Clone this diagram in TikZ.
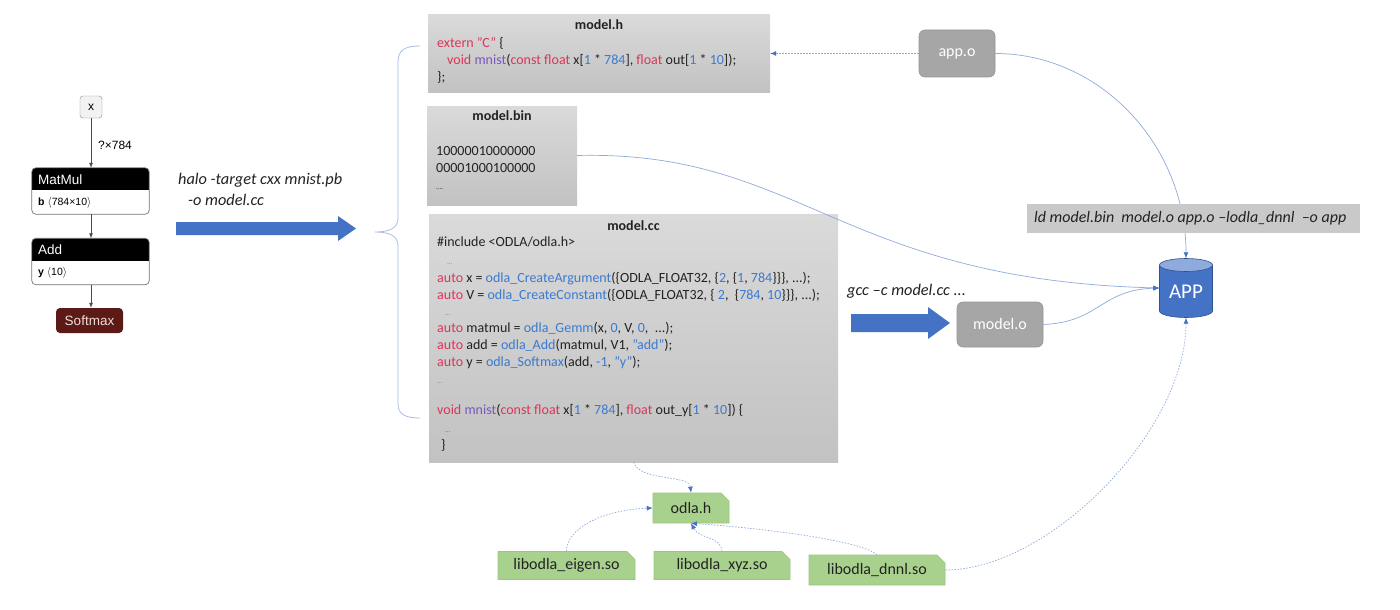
\documentclass[tikz,border=0pt]{standalone}
\usepackage{fontspec}
\setmainfont{Carlito}
\newfontfamily\graphfont{Liberation Sans}
\usetikzlibrary{arrows.meta,shapes.misc}
\definecolor{kwred}{HTML}{DE3458}
\definecolor{fnblue}{HTML}{3A7AD0}
\definecolor{mnpurple}{HTML}{7B55C0}
\definecolor{codeblack}{HTML}{222222}
\definecolor{boxtop}{HTML}{DADADA}
\definecolor{boxbot}{HTML}{C2C2C2}
\definecolor{objgray}{HTML}{A6A6A6}
\definecolor{objborder}{HTML}{959595}
\definecolor{bigblue}{HTML}{4472C4}
\definecolor{linkblue}{HTML}{8FAADC}
\definecolor{headblue}{HTML}{4472C4}
\definecolor{libgreen}{HTML}{A9D18E}
\definecolor{libborder}{HTML}{9CC67F}
\definecolor{appdark}{HTML}{2F528F}
\definecolor{apptop}{HTML}{8FAADC}
\definecolor{smred}{HTML}{5B1A15}
\definecolor{smtext}{HTML}{F2DCD8}
\definecolor{bracecol}{HTML}{A9BDE2}
\definecolor{ldgray}{HTML}{C9C9C9}
\newcommand\ckw[1]{\textcolor{kwred}{#1}}
\newcommand\cfn[1]{\textcolor{fnblue}{#1}}
\newcommand\cmn[1]{\textcolor{mnpurple}{#1}}
\begin{document}
\begin{tikzpicture}[x=1pt,y=-1pt,
  codeline/.style={anchor=mid west, inner sep=0pt, text=codeblack, font=\fontsize{14}{17}\selectfont},
  dotline/.style={anchor=base west, inner sep=0pt, text=gray, font=\fontsize{7}{7}\selectfont},
  codetitle/.style={inner sep=0pt, anchor=mid, text=codeblack, font=\bfseries\fontsize{14}{17}\selectfont},
  codebox/.style={rectangle, draw=none, top color=boxtop, bottom color=boxbot, inner sep=0pt},
  objbox/.style={rectangle, rounded corners=6pt, fill=objgray, draw=objborder, line width=0.6pt, text=white, font=\fontsize{16}{18}\selectfont, inner sep=0pt},
  libbox/.style={chamfered rectangle, chamfered rectangle corners=north east, chamfered rectangle xsep=4pt, chamfered rectangle ysep=4pt, fill=libgreen, draw=libborder, line width=0.6pt, text=codeblack, font=\fontsize{16}{18}\selectfont, inner sep=0pt},
  conn/.style={draw=linkblue, line width=0.7pt, -{Latex[length=6pt,width=5pt,color=headblue]}},
  dconn/.style={conn, dash pattern=on 1.5pt off 1.5pt},
  garrow/.style={draw=black!70, line width=0.7pt, -{Latex[length=5pt,width=4pt]}},
  gfont/.style={font=\graphfont\fontsize{12}{14}\selectfont},
  opbox/.style={rectangle, minimum width=117, minimum height=46, inner sep=0pt},
  optext/.style={anchor=west, inner sep=0pt, gfont},
  cmdtext/.style={anchor=west, inner sep=0pt, text=codeblack, font=\itshape\fontsize{16.3}{19}\selectfont},
  brace/.style={draw=bracecol, line width=0.8pt}
]
\fill[white] (0,0) rectangle (1400,610);
\useasboundingbox (0,0) rectangle (1400,610);

% ---------- left graph ----------
\node[draw=black!45, fill=black!5, rounded corners=3pt, minimum width=22, minimum height=22, inner sep=0pt, gfont] (x) at (91,107) {x};
\node[optext] (xl) at (98,145) {?×784};

\node[opbox] (mm) at (90.5,191) {};
\begin{scope}
\clip[rounded corners=4pt] (mm.north west) rectangle (mm.south east);
\fill[black] (mm.north west) rectangle ([yshift=-22pt]mm.north east);
\end{scope}
\draw[black!55, line width=0.7pt, rounded corners=4pt] (mm.north west) rectangle (mm.south east);
\node[optext, text=white, font=\graphfont\fontsize{13.5}{15}\selectfont] (mmt) at (38,179.5) {MatMul};
\node[optext, font=\graphfont\fontsize{10.5}{12}\selectfont] (mmb) at (38,203) {\textbf{b} \ensuremath{\langle}784×10\ensuremath{\rangle}};

\node[opbox] (ad) at (90.5,261.5) {};
\begin{scope}
\clip[rounded corners=4pt] (ad.north west) rectangle (ad.south east);
\fill[black] (ad.north west) rectangle ([yshift=-23pt]ad.north east);
\end{scope}
\draw[black!55, line width=0.7pt, rounded corners=4pt] (ad.north west) rectangle (ad.south east);
\node[optext, text=white, font=\graphfont\fontsize{13.5}{15}\selectfont] (adt) at (38,250) {Add};
\node[optext, font=\graphfont\fontsize{10.5}{12}\selectfont] (adb) at (38,273) {\textbf{y} \ensuremath{\langle}10\ensuremath{\rangle}};

\node[fill=smred, rounded corners=4pt, minimum width=67, minimum height=25, inner sep=0pt, text=smtext, font=\graphfont\fontsize{13.5}{15}\selectfont] (sm) at (89.5,320.5) {Softmax};

\draw[garrow] (x.south) -- (x.south |- mm.north);
\draw[garrow] (x.south |- mm.south) -- (x.south |- ad.north);
\draw[garrow] (x.south |- ad.south) -- (x.south |- sm.north);

% ---------- halo command ----------
\node[cmdtext] (halo1) at (178,180) {halo -target cxx mnist.pb};
\node[cmdtext] (halo2) at (188,200) {-o model.cc};
\fill[bigblue] (176,222) -- (338,222) -- (338,216) -- (356,228.5) -- (338,241) -- (338,235) -- (176,235) -- cycle;

% ---------- brace ----------
\draw[brace] (420,46) .. controls (405,46) and (398,50) .. (398,62) -- (398,218)
  .. controls (398,228) and (390,232) .. (375,232)
  .. controls (390,232) and (398,236) .. (398,246) -- (398,404)
  .. controls (398,414) and (405,418) .. (420,418);

% ---------- model.h ----------
\node[codebox, minimum width=342, minimum height=77] (mh) at (599,53.5) {};
\node[codetitle] (mht) at (599,27) {model.h};
\node[codeline] (mh1) at (437,45) {\ckw{extern} \ckw{"C"} \{};
\node[codeline] (mh2) at (447,62) {\ckw{void} \cmn{mnist}(\ckw{const} \ckw{float} x[\cfn{1} * \cfn{784}], \ckw{float} out[\cfn{1} * \cfn{10}]);};
\node[codeline] (mh3) at (437,79) {\};};

% ---------- model.bin ----------
\node[codebox, minimum width=150, minimum height=99] (mb) at (502,155.5) {};
\node[codetitle] (mbt) at (502,118) {model.bin};
\node[codeline] (mb1) at (436,153) {10000010000000};
\node[codeline] (mb2) at (436,170) {00001000100000};
\node[dotline, text=codeblack] (mb3) at (436,189) {....};

% ---------- model.cc ----------
\node[codebox, minimum width=409, minimum height=248] (cc) at (633.5,338) {};
\node[codetitle] (cct) at (633.5,228) {model.cc};
\node[codeline] (c1) at (437,244) {\#include <ODLA/odla.h>};
\node[dotline] (c2) at (447,264) {...};
\node[codeline] (c3) at (437,280) {\ckw{auto} x = \cfn{odla\_CreateArgument}(\{ODLA\_FLOAT32, \{\cfn{2}, \{\cfn{1}, \cfn{784}\}\}\}, ...);};
\node[codeline] (c4) at (437,297) {\ckw{auto} V = \cfn{odla\_CreateConstant}(\{ODLA\_FLOAT32, \{ \cfn{2},~ \{\cfn{784}, \cfn{10}\}\}\}, ...);};
\node[dotline] (c5) at (445,315) {...};
\node[codeline] (c6) at (437,330) {\ckw{auto} matmul = \cfn{odla\_Gemm}(x, \cfn{0}, V, \cfn{0},~ ...);};
\node[codeline] (c7) at (437,347) {\ckw{auto} add = \cfn{odla\_Add}(matmul, V1, \cfn{"add"});};
\node[codeline] (c8) at (437,364) {\ckw{auto} y = \cfn{odla\_Softmax}(add, \cfn{-1}, \cfn{"y"});};
\node[dotline] (c9) at (437,383) {...};
\node[codeline] (c10) at (437,412) {\ckw{void} \cmn{mnist}(\ckw{const} \ckw{float} x[\cfn{1} * \cfn{784}], \ckw{float} out\_y[\cfn{1} * \cfn{10}]) \{};
\node[dotline, text=fnblue] (c11) at (445,432) {...};
\node[codeline] (c12) at (441,447) {\}};

% ---------- app.o, model.o ----------
\node[objbox, minimum width=76, minimum height=47] (app) at (957,53.5) {app.o};
\node[objbox, minimum width=86, minimum height=45] (mo) at (1000,324.5) {model.o};
\node[cmdtext] (gcc) at (847,291) {gcc –c model.cc ...};
\fill[bigblue] (851,314) -- (928,314) -- (928,307) -- (950,323) -- (928,339) -- (928,332) -- (851,332) -- cycle;

% ---------- APP ----------
\node[rectangle, minimum width=53, minimum height=59, inner sep=0pt] (APP) at (1186,288) {};
\fill[bigblue] (1159.5,265) -- (1159.5,311) arc[start angle=180, end angle=360, x radius=26.5pt, y radius=6.5pt] -- (1212.5,265) -- cycle;
\draw[appdark, line width=0.6pt] (1159.5,265) -- (1159.5,311) arc[start angle=180, end angle=360, x radius=26.5pt, y radius=6.5pt] -- (1212.5,265);
\draw[appdark, fill=apptop, line width=0.6pt] (1186,265) ellipse[x radius=26.5pt, y radius=6.5pt];
\node[text=white, inner sep=0pt, font=\fontsize{21}{24}\selectfont] (APPt) at (1186,292) {APP};

% ---------- green libs ----------
\node[libbox, minimum width=76, minimum height=30] (odla) at (691,508) {odla.h};
\node[libbox, minimum width=137, minimum height=28] (eigen) at (566.5,565.5) {libodla\_eigen.so};
\node[libbox, minimum width=136, minimum height=28] (xyz) at (722,565.5) {libodla\_xyz.so};
\node[libbox, minimum width=136, minimum height=30] (dnnl) at (877,570) {libodla\_dnnl.so};

% ---------- connectors ----------
\draw[dconn] (app.west) -- (mh.east |- app.west);
\draw[conn] (app.east) .. controls (1100,53.5) and (1186,145) .. (APP.north);
\draw[conn] (mb.east) .. controls (800,150) and (840,280) .. (APP.west);
\draw[conn] (mo.east) .. controls (1100,322) and (1100,290) .. (APP.west);
\draw[dconn] (dnnl.east) .. controls (1050,570) and (1186,430) .. (APP.south);
\draw[dconn] (cc.south) .. controls (640,482) and (689,474) .. (odla.north);
\draw[dconn] (eigen.north) .. controls (566,530) and (600,510) .. (odla.west);
\draw[dconn] (xyz.north) .. controls (720,535) and (700,540) .. (odla.south);
\draw[dconn] (dnnl.north) .. controls (860,540) and (760,528) .. (odla.south);

% ---------- ld command ----------
\node[rectangle, fill=ldgray, minimum width=333, minimum height=29, inner sep=0pt] (ld) at (1193.5,218.5) {};
\node[cmdtext, font=\itshape\fontsize{16}{18}\selectfont] (ldt) at (1034,218.5) {ld model.bin~ model.o app.o –lodla\_dnnl~ –o app};
\end{tikzpicture}
\end{document}
